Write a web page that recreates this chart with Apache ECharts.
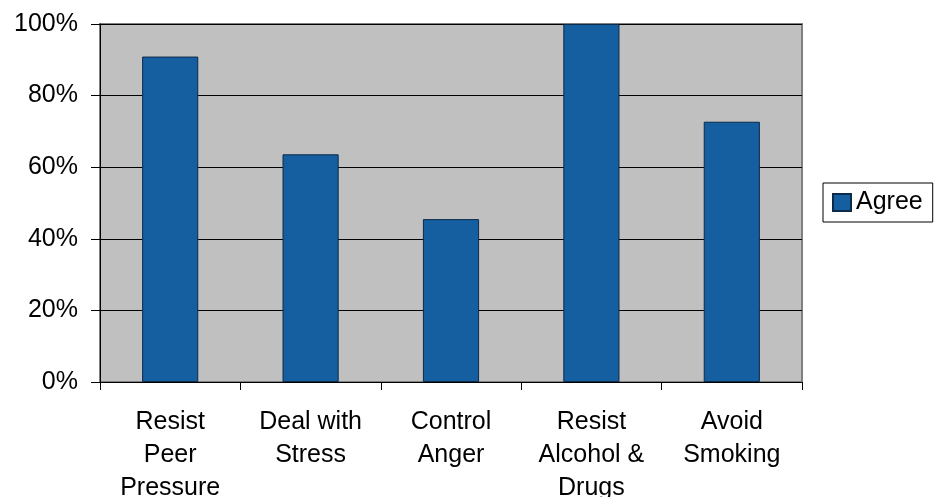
<!DOCTYPE html>
<html><head><meta charset="utf-8">
<script src="https://cdn.jsdelivr.net/npm/echarts@6/dist/echarts.min.js"></script>
<style>html,body{margin:0;padding:0;background:#fff}#c{width:943px;height:497px}</style>
</head><body><div id="c"></div>
<script>
const categories = ["Resist\nPeer\nPressure", "Deal with\nStress", "Control\nAnger", "Resist\nAlcohol &\nDrugs", "Avoid\nSmoking"];
const agree = [90.9, 63.6, 45.5, 100, 72.7];
const seriesName = "Agree";

const FF = 'Liberation Sans, Arial, sans-serif';
const chart = echarts.init(document.getElementById('c'), null, {renderer: 'canvas'});
chart.setOption({
  animation: false,
  backgroundColor: '#ffffff',
  textStyle: {fontFamily: FF},
  grid: {left: 100, right: 141, top: 24, bottom: 115, containLabel: false, outerBoundsMode: 'none',
         show: true, backgroundColor: '#c0c0c0', borderColor: '#808080', borderWidth: 2},
  legend: {
    data: [seriesName], orient: 'vertical', left: 823, top: 183, width: 113,
    padding: [7, 10, 7, 9], itemWidth: 18, itemHeight: 17, itemGap: 5,
    borderColor: '#000', borderWidth: 1, backgroundColor: '#fff',
    textStyle: {fontSize: 25, lineHeight: 25, color: '#000', fontFamily: FF, padding: [0, 0, 0, 0]},
    icon: 'rect'
  },
  xAxis: {
    type: 'category', data: categories,
    axisLine: {lineStyle: {color: '#000', width: 1}},
    axisTick: {show: true, alignWithLabel: false, length: 8, lineStyle: {color: '#000'}},
    axisLabel: {fontSize: 25, color: '#000', lineHeight: 33, margin: 24, interval: 0, fontFamily: FF},
    splitLine: {show: false}
  },
  yAxis: {
    type: 'value', min: 0, max: 100, interval: 20,
    axisLine: {show: true, lineStyle: {color: '#000', width: 1}},
    axisTick: {show: true, length: 9, lineStyle: {color: '#000'}},
    axisLabel: {fontSize: 25, color: '#000', margin: 22, formatter: v => v + '%', fontFamily: FF},
    splitLine: {show: true, lineStyle: {color: '#000', width: 1}}
  },
  series: [{
    name: seriesName, type: 'bar', data: agree, barWidth: '40%',
    itemStyle: {color: '#155ea0', borderColor: '#0c2a4a', borderWidth: 1}
  }]
});
</script></body></html>
